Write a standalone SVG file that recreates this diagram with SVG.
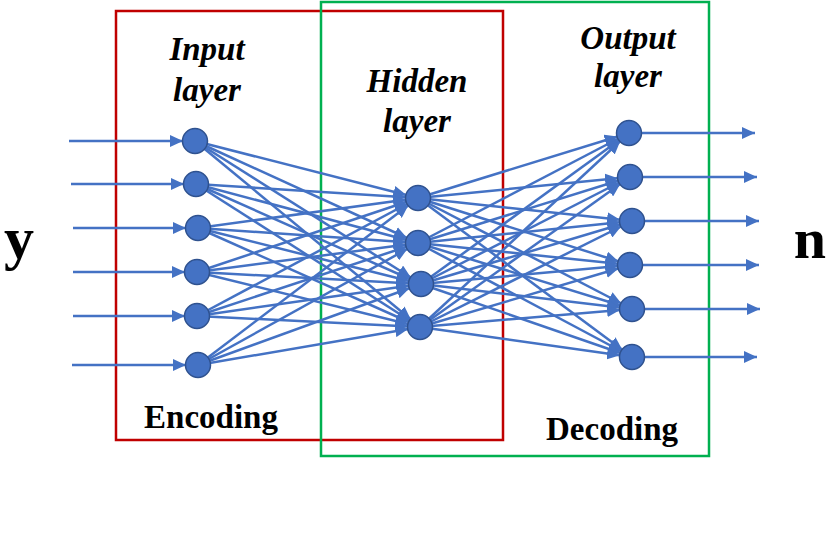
<svg xmlns="http://www.w3.org/2000/svg" width="831" height="539" viewBox="0 0 831 539">
<defs>
<style>
.e{stroke:#4472C4;stroke-width:2.5;fill:none}
.n{fill:#4472C4;stroke:#2F528F;stroke-width:1.5}
.lbl{font-family:"Liberation Serif","Times New Roman",serif;font-weight:bold;fill:#000}
.it{font-style:italic;font-size:33px}
</style>
<marker id="ah" markerUnits="userSpaceOnUse" markerWidth="13" markerHeight="12" refX="25" refY="6" orient="auto">
<path d="M0,0 L13,6 L0,12 z" fill="#4472C4"/>
</marker>
<marker id="ao" markerUnits="userSpaceOnUse" markerWidth="13" markerHeight="12" refX="13" refY="6" orient="auto">
<path d="M0,0 L13,6 L0,12 z" fill="#4472C4"/>
</marker>
</defs>
<rect width="831" height="539" fill="#fff"/>
<g id="boxes">
<rect id="encoder-box" x="116" y="11" width="387" height="429" fill="none" stroke="#C00000" stroke-width="2.5"/>
<rect id="decoder-box" x="321" y="2" width="388" height="454" fill="none" stroke="#00B050" stroke-width="2.5"/>
</g>
<g id="connectors" class="e">
<line x1="69" y1="141" x2="195" y2="141" marker-end="url(#ah)"/>
<line x1="71" y1="184" x2="196" y2="184" marker-end="url(#ah)"/>
<line x1="73" y1="228" x2="198" y2="228" marker-end="url(#ah)"/>
<line x1="73" y1="272" x2="197" y2="272" marker-end="url(#ah)"/>
<line x1="73" y1="316" x2="197" y2="316" marker-end="url(#ah)"/>
<line x1="72" y1="365" x2="198" y2="365" marker-end="url(#ah)"/>
<line x1="195" y1="141" x2="418" y2="198" marker-end="url(#ah)"/>
<line x1="195" y1="141" x2="418" y2="243" marker-end="url(#ah)"/>
<line x1="195" y1="141" x2="421" y2="284" marker-end="url(#ah)"/>
<line x1="195" y1="141" x2="420" y2="327" marker-end="url(#ah)"/>
<line x1="196" y1="184" x2="418" y2="198" marker-end="url(#ah)"/>
<line x1="196" y1="184" x2="418" y2="243" marker-end="url(#ah)"/>
<line x1="196" y1="184" x2="421" y2="284" marker-end="url(#ah)"/>
<line x1="196" y1="184" x2="420" y2="327" marker-end="url(#ah)"/>
<line x1="198" y1="228" x2="418" y2="198" marker-end="url(#ah)"/>
<line x1="198" y1="228" x2="418" y2="243" marker-end="url(#ah)"/>
<line x1="198" y1="228" x2="421" y2="284" marker-end="url(#ah)"/>
<line x1="198" y1="228" x2="420" y2="327" marker-end="url(#ah)"/>
<line x1="197" y1="272" x2="418" y2="198" marker-end="url(#ah)"/>
<line x1="197" y1="272" x2="418" y2="243" marker-end="url(#ah)"/>
<line x1="197" y1="272" x2="421" y2="284" marker-end="url(#ah)"/>
<line x1="197" y1="272" x2="420" y2="327" marker-end="url(#ah)"/>
<line x1="197" y1="316" x2="418" y2="198" marker-end="url(#ah)"/>
<line x1="197" y1="316" x2="418" y2="243" marker-end="url(#ah)"/>
<line x1="197" y1="316" x2="421" y2="284" marker-end="url(#ah)"/>
<line x1="197" y1="316" x2="420" y2="327" marker-end="url(#ah)"/>
<line x1="198" y1="365" x2="418" y2="198" marker-end="url(#ah)"/>
<line x1="198" y1="365" x2="418" y2="243" marker-end="url(#ah)"/>
<line x1="198" y1="365" x2="421" y2="284" marker-end="url(#ah)"/>
<line x1="198" y1="365" x2="420" y2="327" marker-end="url(#ah)"/>
<line x1="418" y1="198" x2="629" y2="133" marker-end="url(#ah)"/>
<line x1="418" y1="198" x2="630" y2="177" marker-end="url(#ah)"/>
<line x1="418" y1="198" x2="632" y2="221" marker-end="url(#ah)"/>
<line x1="418" y1="198" x2="630" y2="265" marker-end="url(#ah)"/>
<line x1="418" y1="198" x2="632" y2="309" marker-end="url(#ah)"/>
<line x1="418" y1="198" x2="632" y2="357" marker-end="url(#ah)"/>
<line x1="418" y1="243" x2="629" y2="133" marker-end="url(#ah)"/>
<line x1="418" y1="243" x2="630" y2="177" marker-end="url(#ah)"/>
<line x1="418" y1="243" x2="632" y2="221" marker-end="url(#ah)"/>
<line x1="418" y1="243" x2="630" y2="265" marker-end="url(#ah)"/>
<line x1="418" y1="243" x2="632" y2="309" marker-end="url(#ah)"/>
<line x1="418" y1="243" x2="632" y2="357" marker-end="url(#ah)"/>
<line x1="421" y1="284" x2="629" y2="133" marker-end="url(#ah)"/>
<line x1="421" y1="284" x2="630" y2="177" marker-end="url(#ah)"/>
<line x1="421" y1="284" x2="632" y2="221" marker-end="url(#ah)"/>
<line x1="421" y1="284" x2="630" y2="265" marker-end="url(#ah)"/>
<line x1="421" y1="284" x2="632" y2="309" marker-end="url(#ah)"/>
<line x1="421" y1="284" x2="632" y2="357" marker-end="url(#ah)"/>
<line x1="420" y1="327" x2="629" y2="133" marker-end="url(#ah)"/>
<line x1="420" y1="327" x2="630" y2="177" marker-end="url(#ah)"/>
<line x1="420" y1="327" x2="632" y2="221" marker-end="url(#ah)"/>
<line x1="420" y1="327" x2="630" y2="265" marker-end="url(#ah)"/>
<line x1="420" y1="327" x2="632" y2="309" marker-end="url(#ah)"/>
<line x1="420" y1="327" x2="632" y2="357" marker-end="url(#ah)"/>
<line x1="629" y1="133" x2="755" y2="133" marker-end="url(#ao)"/>
<line x1="630" y1="177" x2="757" y2="177" marker-end="url(#ao)"/>
<line x1="632" y1="221" x2="759" y2="221" marker-end="url(#ao)"/>
<line x1="630" y1="265" x2="759" y2="265" marker-end="url(#ao)"/>
<line x1="632" y1="309" x2="760" y2="309" marker-end="url(#ao)"/>
<line x1="632" y1="357" x2="757" y2="357" marker-end="url(#ao)"/>
</g>
<g id="input-nodes">
<circle id="in1" class="n" cx="195" cy="141" r="12.5"/>
<circle id="in2" class="n" cx="196" cy="184" r="12.5"/>
<circle id="in3" class="n" cx="198" cy="228" r="12.5"/>
<circle id="in4" class="n" cx="197" cy="272" r="12.5"/>
<circle id="in5" class="n" cx="197" cy="316" r="12.5"/>
<circle id="in6" class="n" cx="198" cy="365" r="12.5"/>
</g>
<g id="hidden-nodes">
<circle id="h1" class="n" cx="418" cy="198" r="12.5"/>
<circle id="h2" class="n" cx="418" cy="243" r="12.5"/>
<circle id="h3" class="n" cx="421" cy="284" r="12.5"/>
<circle id="h4" class="n" cx="420" cy="327" r="12.5"/>
</g>
<g id="output-nodes">
<circle id="o1" class="n" cx="629" cy="133" r="12.5"/>
<circle id="o2" class="n" cx="630" cy="177" r="12.5"/>
<circle id="o3" class="n" cx="632" cy="221" r="12.5"/>
<circle id="o4" class="n" cx="630" cy="265" r="12.5"/>
<circle id="o5" class="n" cx="632" cy="309" r="12.5"/>
<circle id="o6" class="n" cx="632" cy="357" r="12.5"/>
</g>
<g id="labels" class="lbl">
<text class="it" x="207" y="60" text-anchor="middle">Input</text>
<text class="it" x="207" y="101" text-anchor="middle">layer</text>
<text class="it" x="417" y="92" text-anchor="middle">Hidden</text>
<text class="it" x="417" y="132" text-anchor="middle">layer</text>
<text class="it" x="628" y="49" text-anchor="middle">Output</text>
<text class="it" x="628" y="87" text-anchor="middle">layer</text>
<text x="211" y="428" font-size="33" text-anchor="middle">Encoding</text>
<text x="612" y="440" font-size="33" text-anchor="middle">Decoding</text>
<text x="19" y="258" font-size="60" text-anchor="middle">y</text>
<text x="810" y="258" font-size="58" text-anchor="middle">n</text>
</g>
</svg>
